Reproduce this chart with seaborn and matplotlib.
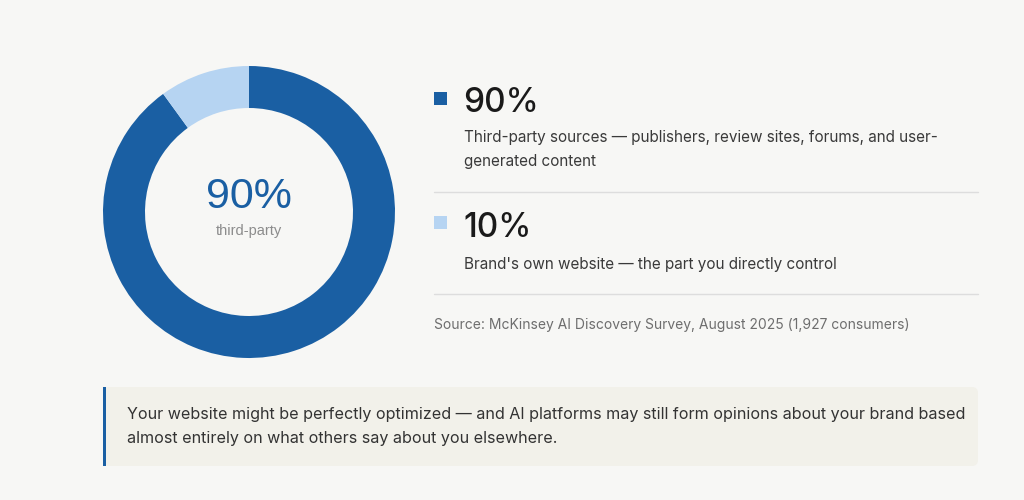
import matplotlib
matplotlib.use("Agg")
import matplotlib.pyplot as plt
import seaborn as sns
from matplotlib.lines import Line2D
from matplotlib.patches import FancyBboxPatch, Rectangle

# data
labels = ["Third-party sources", "Brand's own website"]
shares = [90, 10]
share_text = ["90%", "10%"]
descriptions = [
    "Third-party sources \u2014 publishers, review sites, forums, and user-\ngenerated content",
    "Brand's own website \u2014 the part you directly control",
]
center_value = "90%"
center_label = "third-party"
source = "Source: McKinsey AI Discovery Survey, August 2025 (1,927 consumers)"
callout = ("Your website might be perfectly optimized \u2014 and AI platforms may still form opinions about your brand based\n"
           "almost entirely on what others say about you elsewhere.")

colors = ["#1a5fa3", "#b6d4f2"]
bg = "#f7f7f5"

sns.set_theme(style="white")
plt.rcParams["font.family"] = ["Inter", "DejaVu Sans"]

W, H = 1024, 500
fig = plt.figure(figsize=(W / 100, H / 100), dpi=100, facecolor=bg)


def px(x, y):
    # pixel position (from top-left) -> figure fraction
    return x / W, 1 - y / H


# donut
cx, cy, size = 249, 212, 300
ax = fig.add_axes([(cx - size / 2) / W, 1 - (cy + size / 2) / H, size / W, size / H])
ax.set_facecolor(bg)
ax.pie(shares, colors=colors, startangle=90, counterclock=False, radius=146,
       wedgeprops=dict(width=42, linewidth=0), frame=False)
ax.set_xlim(-150, 150)
ax.set_ylim(-150, 150)
ax.set_aspect("equal")
ax.axis("off")
ax.text(0, 15, center_value, ha="center", va="center", fontsize=31,
        color=colors[0], family=["Liberation Sans", "DejaVu Sans"])
ax.text(0, -19, center_label, ha="center", va="center", fontsize=10.5,
        color="#8c8c8c", family=["Liberation Sans", "DejaVu Sans"])

# legend blocks
rows = [(98, 103, 130), (222, 228, 257)]
for i, (sq_y, val_y, desc_y) in enumerate(rows):
    fig.add_artist(Rectangle((434 / 100, (H - sq_y - 6.5) / 100), 13 / 100, 13 / 100,
                             transform=fig.dpi_scale_trans, facecolor=colors[i],
                             edgecolor="none"))
    x, y = px(463, val_y)
    fig.text(x, y, share_text[i], ha="left", va="center", fontsize=24,
             fontweight="medium", color="#1a1a1a")
    x, y = px(464, desc_y)
    fig.text(x, y, descriptions[i], ha="left", va="top", fontsize=11,
             color="#3a3a3a", linespacing=1.75)

for ly in [192, 294]:
    x0, y0 = px(434, ly)
    x1, _ = px(978, ly)
    fig.add_artist(Line2D([x0, x1], [y0, y0], color="#dddddd", lw=1))

x, y = px(434, 325)
fig.text(x, y, source, ha="left", va="center", fontsize=10, color="#6e6e6e")

# callout box
fig.add_artist(FancyBboxPatch((103 / 100, (H - 466) / 100), 875 / 100, 79 / 100,
                              boxstyle="round,pad=0,rounding_size=0.06",
                              transform=fig.dpi_scale_trans,
                              facecolor="#f2f1ea", edgecolor="none"))
fig.add_artist(Rectangle((103 / 100, (H - 466) / 100), 3 / 100, 79 / 100,
                         transform=fig.dpi_scale_trans, facecolor=colors[0],
                         edgecolor="none"))
x, y = px(127, 407)
fig.text(x, y, callout, ha="left", va="top", fontsize=11.6,
         color="#333333", linespacing=1.72)

fig.savefig("out.png", dpi=100, facecolor=bg)
